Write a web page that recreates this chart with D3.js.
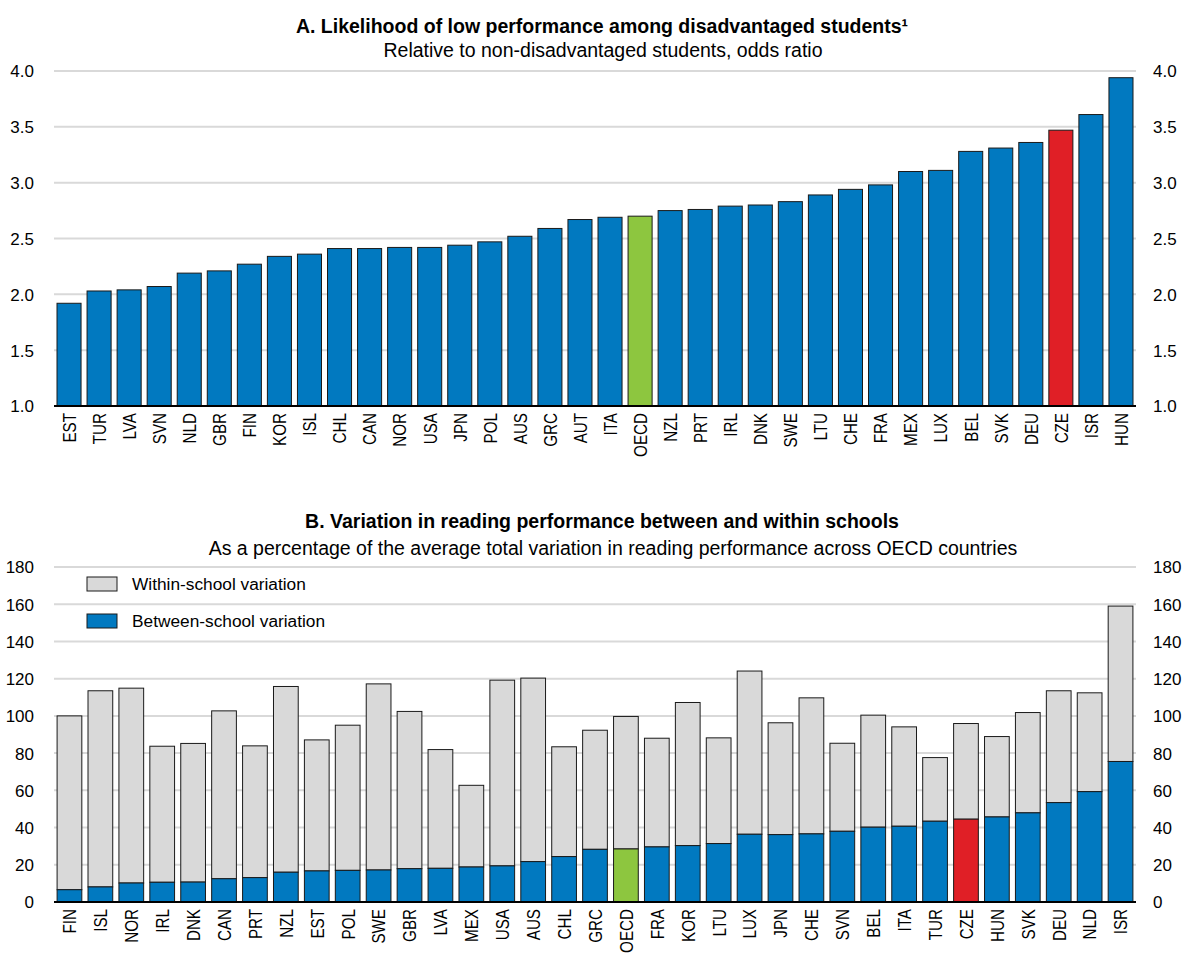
<!DOCTYPE html>
<html><head><meta charset="utf-8">
<script src="https://cdn.jsdelivr.net/npm/d3@7"></script>
<style>
body{margin:0;background:#fff;}
text{font-family:"Liberation Sans","Arial",sans-serif;fill:#000;}
</style></head>
<body><svg id="c" width="1192" height="954"></svg>
<script>
// Panel A data
const catsA = ["EST","TUR","LVA","SVN","NLD","GBR","FIN","KOR","ISL","CHL","CAN","NOR","USA","JPN","POL","AUS","GRC","AUT","ITA","OECD","NZL","PRT","IRL","DNK","SWE","LTU","CHE","FRA","MEX","LUX","BEL","SVK","DEU","CZE","ISR","HUN"];
const valsA = [1.92,2.03,2.04,2.07,2.19,2.21,2.27,2.34,2.36,2.41,2.41,2.42,2.42,2.44,2.47,2.52,2.59,2.67,2.69,2.70,2.75,2.76,2.79,2.80,2.83,2.89,2.94,2.98,3.10,3.11,3.28,3.31,3.36,3.47,3.61,3.94];
const ticksA = [1.0,1.5,2.0,2.5,3.0,3.5,4.0];
// Panel B data
const catsB = ["FIN","ISL","NOR","IRL","DNK","CAN","PRT","NZL","EST","POL","SWE","GBR","LVA","MEX","USA","AUS","CHL","GRC","OECD","FRA","KOR","LTU","LUX","JPN","CHE","SVN","BEL","ITA","TUR","CZE","HUN","SVK","DEU","NLD","ISR"];
const betweenB = [6.6,8.1,10.2,10.6,10.7,12.5,13.1,16.0,16.7,17.0,17.2,17.9,18.1,18.8,19.4,21.7,24.4,28.3,28.5,29.6,30.3,31.4,36.4,36.2,36.6,38.0,40.2,40.7,43.4,44.5,45.7,47.9,53.4,59.3,75.5];
const totalB = [100.0,113.5,114.9,83.7,85.2,102.7,83.9,115.8,87.1,95.0,117.2,102.4,81.9,62.7,119.2,120.3,83.4,92.3,99.7,88.0,107.2,88.2,124.1,96.3,109.7,85.3,100.4,94.1,77.6,95.9,88.9,101.8,113.5,112.4,159.0];
const ticksB = [0,20,40,60,80,100,120,140,160,180];
const seriesB = ["Within-school variation","Between-school variation"];

const BLUE="#0179c0", GREEN="#8dc63f", RED="#e01f26", GREY="#d9d9d9", GRID="#d9d9d9";
const svg = d3.select("#c");
const X0=54, X1=1136;
const SQ=0.8;

function hl(c){ return c==="OECD"?GREEN:(c==="CZE"?RED:BLUE); }

function panel(cats, yDomain, ticks, top, bottom, fmt){
  const x = d3.scaleBand().domain(cats).range([X0,X1]).paddingInner(0.2).paddingOuter(0.1);
  const y = d3.scaleLinear().domain(yDomain).range([bottom, top]);
  const g = svg.append("g");
  g.selectAll("line.grid").data(ticks).join("line")
    .attr("x1",X0).attr("x2",X1).attr("y1",d=>y(d)).attr("y2",d=>y(d))
    .attr("stroke",GRID).attr("stroke-width",2);
  const axL = d3.axisLeft(y).tickValues(ticks).tickFormat(fmt).tickSize(0).tickPadding(0);
  const gl = g.append("g").attr("transform",`translate(${X0-20},0)`).call(axL);
  gl.select(".domain").remove();
  gl.selectAll("text").attr("font-size",17).attr("font-family",'"Liberation Sans",Arial,sans-serif').attr("dy","0.35em");
  const axR = d3.axisRight(y).tickValues(ticks).tickFormat(fmt).tickSize(0).tickPadding(0);
  const gr = g.append("g").attr("transform",`translate(${X1+17},0)`).call(axR);
  gr.select(".domain").remove();
  gr.selectAll("text").attr("font-size",17).attr("font-family",'"Liberation Sans",Arial,sans-serif').attr("dy","0.35em");
  return {x,y,g};
}

function catAxis(p, bottom){
  const ax = d3.axisBottom(p.x).tickSize(0).tickPadding(0);
  const ga = p.g.append("g").attr("transform",`translate(0,${bottom})`).call(ax);
  ga.select(".domain").remove();
  ga.selectAll("text").attr("font-size",19).attr("font-family",'"Liberation Sans",Arial,sans-serif')
    .attr("transform",`rotate(-90) scale(${SQ},1)`).attr("text-anchor","end").attr("x",-7/SQ).attr("y",0).attr("dy","0.36em");
  p.g.append("line").attr("x1",X0).attr("x2",X1).attr("y1",bottom).attr("y2",bottom).attr("stroke","#000").attr("stroke-width",2);
}

// Panel A
const topA=71, botA=406;
svg.append("text").attr("x",602).attr("y",33).attr("text-anchor","middle").attr("font-size",19.5).attr("font-weight","bold")
  .text("A. Likelihood of low performance among disadvantaged students¹");
svg.append("text").attr("x",603).attr("y",57).attr("text-anchor","middle").attr("font-size",19.5)
  .text("Relative to non-disadvantaged students, odds ratio");
const pA = panel(catsA,[1,4],ticksA,topA,botA,d3.format(".1f"));
pA.g.selectAll("rect.bar").data(catsA).join("rect")
  .attr("x",d=>pA.x(d)).attr("width",pA.x.bandwidth())
  .attr("y",(d,i)=>pA.y(valsA[i])).attr("height",(d,i)=>pA.y(1)-pA.y(valsA[i]))
  .attr("fill",d=>hl(d)).attr("stroke","#1a1a1a").attr("stroke-width",1);
catAxis(pA,botA);

// Panel B
const topB=567, botB=902;
svg.append("text").attr("x",602).attr("y",528).attr("text-anchor","middle").attr("font-size",19.5).attr("font-weight","bold")
  .text("B. Variation in reading performance between and within schools");
svg.append("text").attr("x",613).attr("y",555).attr("text-anchor","middle").attr("font-size",19.5)
  .text("As a percentage of the average total variation in reading performance across OECD countries");
const pB = panel(catsB,[0,180],ticksB,topB,botB,d3.format("d"));
pB.g.selectAll("rect.tot").data(catsB).join("rect")
  .attr("x",d=>pB.x(d)).attr("width",pB.x.bandwidth())
  .attr("y",(d,i)=>pB.y(totalB[i])).attr("height",(d,i)=>pB.y(betweenB[i])-pB.y(totalB[i]))
  .attr("fill",GREY).attr("stroke","#1a1a1a").attr("stroke-width",1);
pB.g.selectAll("rect.btw").data(catsB).join("rect")
  .attr("x",d=>pB.x(d)).attr("width",pB.x.bandwidth())
  .attr("y",(d,i)=>pB.y(betweenB[i])).attr("height",(d,i)=>pB.y(0)-pB.y(betweenB[i]))
  .attr("fill",d=>hl(d)).attr("stroke","#1a1a1a").attr("stroke-width",1);
catAxis(pB,botB);

// legend
const lg = svg.append("g");
const legColors=[GREY,BLUE];
seriesB.forEach((s,i)=>{
  const yy = 577 + i*37;
  lg.append("rect").attr("x",87).attr("y",yy).attr("width",30).attr("height",14)
    .attr("fill",legColors[i]).attr("stroke","#1a1a1a").attr("stroke-width",1);
  lg.append("text").attr("x",132).attr("y",yy+7).attr("dy","0.35em").attr("font-size",17.3).text(s);
});
</script></body></html>
